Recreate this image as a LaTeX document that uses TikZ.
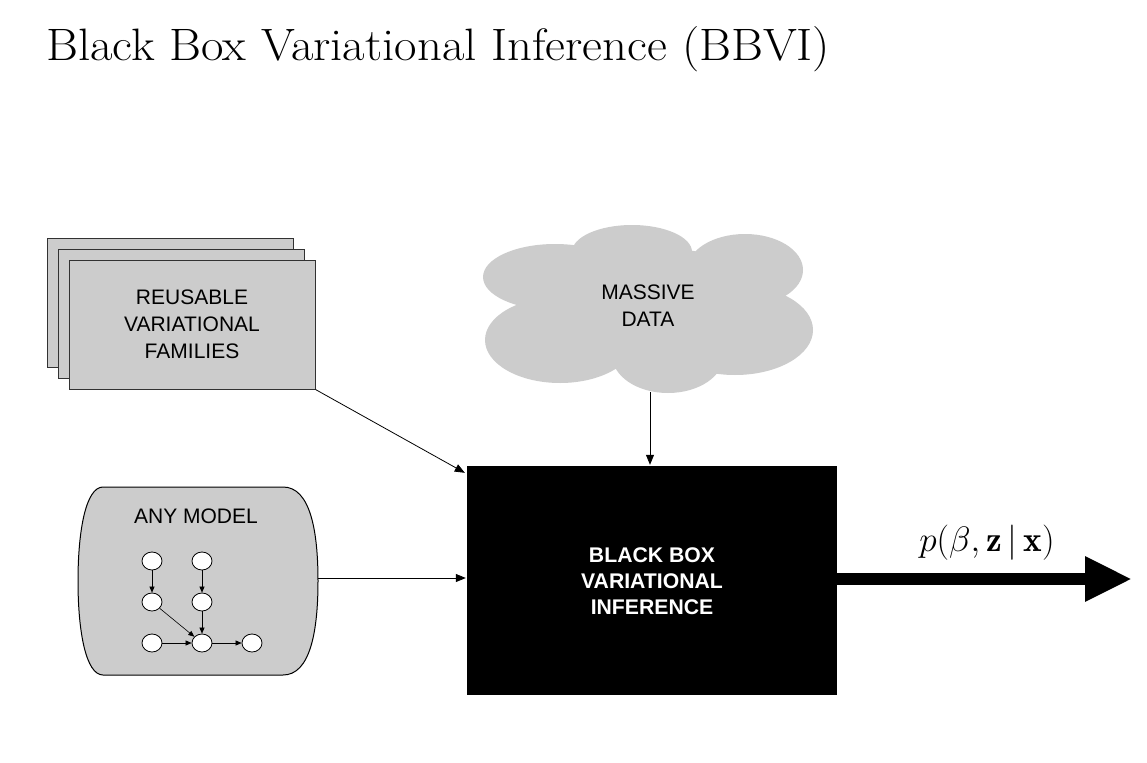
\documentclass[tikz,border=0pt]{standalone}
\usepackage{fontspec}
\usepackage{amsmath}
\usetikzlibrary{arrows.meta,positioning,calc,shapes.geometric}
\newfontfamily\boxfont{Liberation Sans}
\definecolor{boxgray}{RGB}{204,204,204}
\definecolor{edgegray}{RGB}{50,50,50}
\begin{document}
\begin{tikzpicture}[x=1pt,y=-1pt,
  famrect/.style={draw=edgegray,fill=boxgray,line width=1pt,minimum width=246pt,minimum height=129pt,inner sep=0pt},
  boxtext/.style={font=\boxfont\fontsize{21}{27}\selectfont,align=center,text=black},
  blacktext/.style={font=\boxfont\bfseries\fontsize{21.2}{26}\selectfont,align=center,text=white},
  gnode/.style={draw=black,fill=white,ellipse,minimum width=20pt,minimum height=18pt,inner sep=0pt,line width=0.8pt},
  garrow/.style={-{Triangle[length=6pt,width=5pt]},line width=0.6pt},
  conn/.style={-{Triangle[length=10pt,width=8pt]},line width=0.8pt},
]
\useasboundingbox (0,0) rectangle (1147,762);
\fill[white] (0,0) rectangle (1147,762);

% title
\node[anchor=base west,inner sep=0pt] (title) at (46,61)
  {\resizebox{784pt}{\height}{\fontsize{45.4}{50}\selectfont Black Box Variational Inference (BBVI)}};

% stacked families
\draw[famrect] (47,238) rectangle (293,367);
\draw[famrect] (58,249) rectangle (304,378);
\node[famrect] (fam) at (192,324.5) {};
\node[boxtext] (famtext) at (fam.center) {REUSABLE\\VARIATIONAL\\FAMILIES};

% any model
\path[draw=black,fill=boxgray,line width=1pt]
  (103,487) -- (283,487) .. controls (310,487) and (318,530) .. (318,581)
  .. controls (318,632) and (310,675) .. (283,675) -- (103,675)
  .. controls (86,675) and (78,632) .. (78,581)
  .. controls (78,530) and (86,487) .. (103,487) -- cycle;
\coordinate (modeleast) at (318,578);
\node[boxtext] (modeltext) at (196,516) {ANY MODEL};
\node[gnode] (a1) at (152,561) {};
\node[gnode] (b1) at (202,561) {};
\node[gnode] (a2) at (152,602) {};
\node[gnode] (b2) at (202,602) {};
\node[gnode] (a3) at (152,643) {};
\node[gnode] (b3) at (202,643) {};
\node[gnode] (c3) at (252,643) {};
\draw[garrow] (a1) -- (a2);
\draw[garrow] (b1) -- (b2);
\draw[garrow] (a2) -- (b3);
\draw[garrow] (b2) -- (b3);
\draw[garrow] (a3) -- (b3);
\draw[garrow] (b3) -- (c3);

% cloud
\begin{scope}[fill=boxgray]
\fill (555,277) ellipse [x radius=72, y radius=33];
\fill (632,252) ellipse [x radius=60, y radius=27];
\fill (745,270) ellipse [x radius=58, y radius=36];
\fill (735,330) ellipse [x radius=78, y radius=45];
\fill (668,355) ellipse [x radius=56, y radius=38];
\fill (560,340) ellipse [x radius=75, y radius=43];
\fill (648,305) ellipse [x radius=125, y radius=58];
\end{scope}
\node[boxtext] (data) at (648,305.5) {MASSIVE\\DATA};
\coordinate (cloudbottom) at (650,392);

% black box
\node[fill=black,minimum width=370pt,minimum height=229pt,inner sep=0pt] (bb) at (652,580.5) {};
\node[blacktext] (bbtext) at (652,581) {BLACK BOX\\VARIATIONAL\\INFERENCE};

% connectors
\draw[conn] (fam.south east) -- ([xshift=-2pt,yshift=-7pt]bb.north west);
\draw[conn] (cloudbottom) -- ([yshift=1pt]bb.north -| cloudbottom);
\draw[conn] (modeleast) -- ([xshift=-1pt]bb.west |- modeleast);

% output
\coordinate (out) at (1132,579);
\draw[line width=12pt,-{Triangle[length=47pt,width=42pt]}] ([xshift=-1pt]bb.east |- out) -- (out);
\node[font=\fontsize{24.88}{30}\selectfont,anchor=base,inner sep=0pt] (lab) at (987,551) {\scalebox{1.42}{$p(\beta,\mathbf{z}\,|\,\mathbf{x})$}};
\end{tikzpicture}
\end{document}
